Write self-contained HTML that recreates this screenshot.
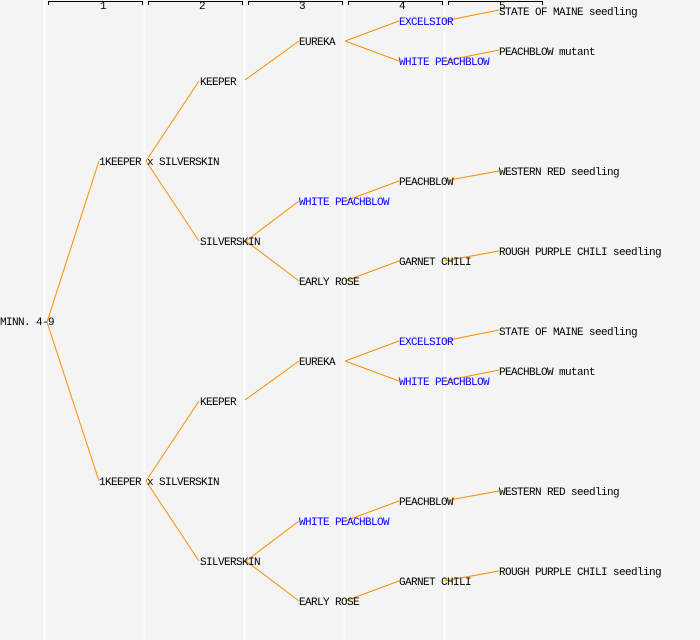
<!DOCTYPE html>
<html><head><meta charset="utf-8"><style>
html,body{margin:0;padding:0;background:#f4f4f4;}
svg{display:block}
text{font-family:"Liberation Mono","DejaVu Sans Mono",monospace;font-size:11px;letter-spacing:-0.6px;fill:#000;dominant-baseline:central}
.b{fill:#0000ff}
line.c{stroke:#ff8c00;stroke-width:1}
</style></head><body>
<svg width="700" height="640" xmlns="http://www.w3.org/2000/svg">
<rect width="700" height="640" fill="#f4f4f4"/>
<g stroke="#fff" stroke-width="1.5">
<line x1="44.5" y1="0" x2="44.5" y2="640"/><line x1="144.5" y1="0" x2="144.5" y2="640"/>
<line x1="244.5" y1="0" x2="244.5" y2="640"/><line x1="344.5" y1="0" x2="344.5" y2="640"/>
<line x1="444.5" y1="0" x2="444.5" y2="640"/>
</g>
<g stroke="#000" fill="none" stroke-width="1">
<path d="M48.5 5V1.5H142.5V5"/><path d="M148.5 5V1.5H242.5V5"/><path d="M248.5 5V1.5H342.5V5"/>
<path d="M348.5 5V1.5H442.5V5"/><path d="M448.5 5V1.5H542.5V5"/>
</g>
<g style="font-size:8px;letter-spacing:0">
<text x="100" y="7">1</text><text x="199" y="7">2</text><text x="299" y="7">3</text><text x="399" y="7">4</text><text x="499" y="7">5</text>
</g>
<line class="c" x1="47" y1="322" x2="99" y2="161"/>
<line class="c" x1="47" y1="322" x2="99" y2="481"/>
<text x="0" y="323">MINN. 4-9</text>
<g id="h">
<line class="c" x1="146" y1="161" x2="199" y2="81"/>
<line class="c" x1="146" y1="161" x2="199" y2="241"/>
<line class="c" x1="245" y1="80" x2="299" y2="41"/>
<line class="c" x1="345" y1="41" x2="399" y2="21"/>
<line class="c" x1="345" y1="41" x2="399" y2="61"/>
<line class="c" x1="444" y1="21" x2="499" y2="10"/>
<line class="c" x1="444" y1="61" x2="499" y2="50"/>
<line class="c" x1="246" y1="241" x2="299" y2="201"/>
<line class="c" x1="246" y1="241" x2="299" y2="281"/>
<line class="c" x1="345" y1="201" x2="399" y2="181"/>
<line class="c" x1="345" y1="281" x2="399" y2="261"/>
<line class="c" x1="444" y1="181" x2="499" y2="171"/>
<line class="c" x1="444" y1="261" x2="499" y2="251"/>
<text x="99" y="163">1KEEPER x SILVERSKIN</text>
<text x="200" y="83">KEEPER</text>
<text x="200" y="243">SILVERSKIN</text>
<text x="299" y="43">EUREKA</text>
<text x="299" y="203" class="b">WHITE PEACHBLOW</text>
<text x="299" y="283">EARLY ROSE</text>
<text x="399" y="23" class="b">EXCELSIOR</text>
<text x="399" y="63" class="b">WHITE PEACHBLOW</text>
<text x="399" y="183">PEACHBLOW</text>
<text x="399" y="263">GARNET CHILI</text>
<text x="499" y="13">STATE OF MAINE seedling</text>
<text x="499" y="53">PEACHBLOW mutant</text>
<text x="499" y="173">WESTERN RED seedling</text>
<text x="499" y="253">ROUGH PURPLE CHILI seedling</text>
</g>
<use href="#h" y="320"/>
</svg>
</body></html>
